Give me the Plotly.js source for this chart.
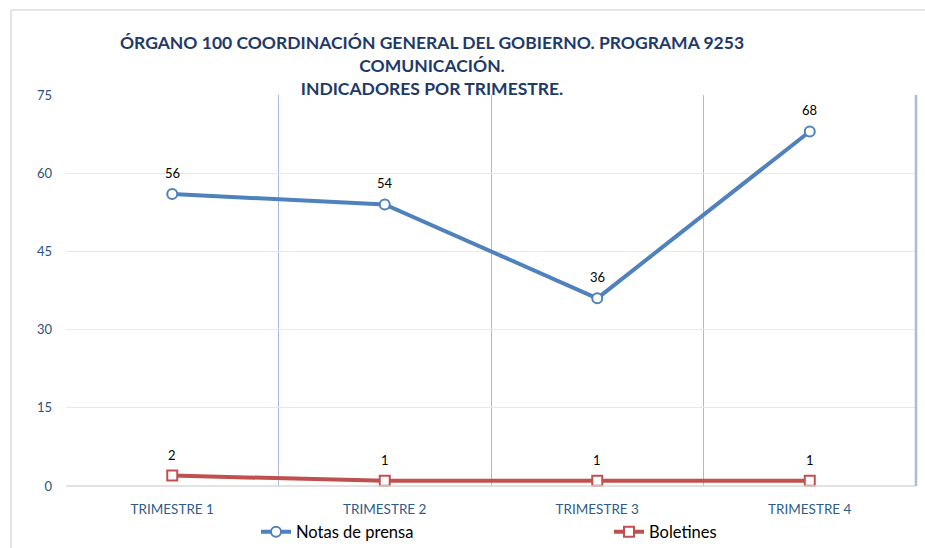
<!DOCTYPE html>
<html>
<head>
<meta charset="utf-8">
<script src="https://cdn.plot.ly/plotly-3.0.1.min.js"></script>
<style>html,body{margin:0;padding:0;background:#fff;}#chart{width:925px;height:548px;}</style>
</head>
<body>
<div id="chart"></div>
<script>
const categories = ["TRIMESTRE 1", "TRIMESTRE 2", "TRIMESTRE 3", "TRIMESTRE 4"];
const notasDePrensa = [56, 54, 36, 68];
const boletines = [2, 1, 1, 1];
const yTicks = [0, 15, 30, 45, 60, 75];
const titleLines = ["ÓRGANO 100 COORDINACIÓN GENERAL DEL GOBIERNO. PROGRAMA 9253", "COMUNICACIÓN.", "INDICADORES POR TRIMESTRE."];

const FONT = "Lato, 'Open Sans', sans-serif";

const traces = [
  {
    x: categories, y: notasDePrensa, name: "Notas de prensa",
    type: "scatter", mode: "lines+markers", legend: "legend",
    line: {color: "#4F81BD", width: 4},
    marker: {symbol: "circle", size: 10, color: "#FFFFFF", line: {color: "#4F81BD", width: 2}},
    cliponaxis: false
  },
  {
    x: categories, y: boletines, name: "Boletines",
    type: "scatter", mode: "lines+markers", legend: "legend2",
    line: {color: "#C0504D", width: 4},
    marker: {symbol: "square", size: 10, color: "#FFFFFF", line: {color: "#C0504D", width: 2}},
    cliponaxis: false
  }
];

const annotations = [];
[notasDePrensa, boletines].forEach(series => {
  series.forEach((v, i) => {
    annotations.push({
      x: categories[i], y: v, xref: "x", yref: "y",
      text: String(v), showarrow: false, yshift: 21,
      font: {family: FONT, size: 13, color: "#000000"}
    });
  });
});

const legendCommon = {
  orientation: "h", xref: "container", yref: "container",
  xanchor: "left", yanchor: "middle",
  font: {family: FONT, size: 16.5, color: "#000000"},
  bgcolor: "rgba(0,0,0,0)"
};

const layout = {
  width: 925, height: 548,
  margin: {l: 66, r: 9, t: 95, b: 62, autoexpand: false},
  paper_bgcolor: "#FFFFFF", plot_bgcolor: "#FFFFFF",
  title: {
    text: titleLines.join("<br>"),
    x: 432 / 925, xref: "container", xanchor: "center",
    y: 1 - 49 / 548, yref: "container", yanchor: "top",
    font: {family: FONT, size: 17.5, color: "#1F3A68", weight: "bold"}
  },
  xaxis: {
    type: "category", tickson: "boundaries",
    showgrid: true, gridcolor: "#A9BCDA", gridwidth: 1,
    showline: false, zeroline: false, ticks: "",
    tickfont: {family: FONT, size: 13.5, color: "#2E5C8A"},
    ticklabelstandoff: 13,
    range: [-0.5, 3.5], fixedrange: true
  },
  yaxis: {
    range: [0, 75], tickvals: yTicks, ticktext: yTicks.map(String),
    showgrid: true, gridcolor: "#E4E9F0", gridwidth: 1,
    zeroline: false, showline: false, ticks: "",
    tickfont: {family: FONT, size: 13, color: "#2E4F7F"},
    ticklabelstandoff: 13, fixedrange: true
  },
  showlegend: true,
  legend: Object.assign({}, legendCommon, {x: 256 / 925, y: 1 - 532 / 548}),
  legend2: Object.assign({}, legendCommon, {x: 609 / 925, y: 1 - 532 / 548}),
  annotations: annotations,
  shapes: [
    {type: "line", xref: "paper", yref: "paper", x0: 0, x1: 1, y0: 0, y1: 0, line: {color: "#D9D9D9", width: 1.5}},
    {type: "line", xref: "paper", yref: "paper", x0: 1, x1: 1, y0: 0, y1: 1, line: {color: "#A9BCDA", width: 2.5}},
    {type: "line", xref: "paper", yref: "paper", x0: -55/850, x1: -55/850, y0: -62/391, y1: 476/391, line: {color: "#DCDCDC", width: 1.5}},
    {type: "line", xref: "paper", yref: "paper", x0: -55/850, x1: 1.02, y0: 476/391, y1: 476/391, line: {color: "#DCDCDC", width: 1.5}}
  ]
};

Plotly.newPlot("chart", traces, layout, {displayModeBar: false, staticPlot: true});
</script>
</body>
</html>
